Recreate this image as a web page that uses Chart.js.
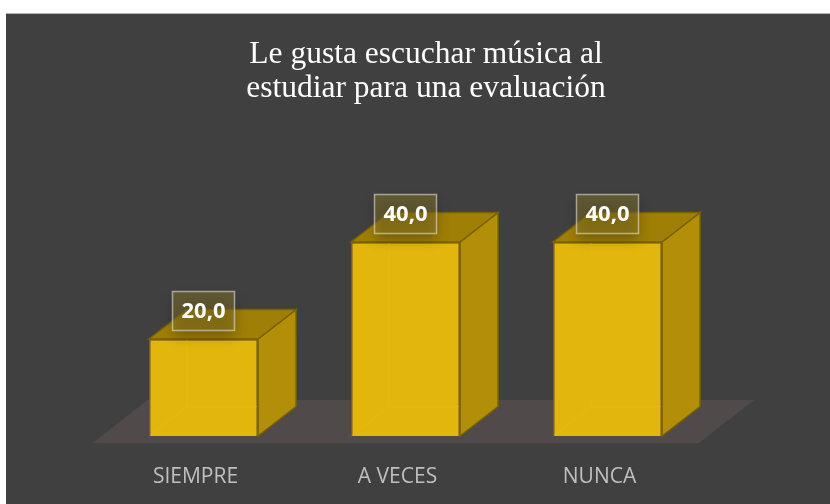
<!DOCTYPE html>
<html>
<head>
<meta charset="utf-8">
<script src="https://cdn.jsdelivr.net/npm/chart.js@4.4.1/dist/chart.umd.min.js"></script>
<style>
  html, body { margin: 0; padding: 0; background: #ffffff; }
  #frame {
    position: absolute; left: 6px; top: 13px; width: 824px; height: 491px;
    background: #404040; border-top: 1px solid #b4b4b4; box-sizing: border-box;
  }
  #chart { position: absolute; left: 0; top: 0; }
</style>
</head>
<body>
<div id="frame"><canvas id="chart" width="824" height="490"></canvas></div>
<script>
const titleLines = ["Le gusta escuchar música al", "estudiar para una evaluación"];
const categories = ["SIEMPRE", "A VECES", "NUNCA"];
const percentages = [20, 40, 40];

// colours of the box faces
const frontColor = "rgba(232, 186, 12, 0.97)";
const topColor = "#9f7f06";
const sideColor = "#b38e09";
const edgeColor = "#7a6200";
const depthX = 38;
const depthY = -29.5;

function formatValue(v) {
  return v.toFixed(1).replace(".", ",");
}

function poly(ctx, pts) {
  ctx.beginPath();
  ctx.moveTo(pts[0][0], pts[0][1]);
  for (let i = 1; i < pts.length; i++) ctx.lineTo(pts[i][0], pts[i][1]);
  ctx.closePath();
}

const bars3d = {
  id: "bars3d",
  beforeDatasetsDraw(chart) {
    const ctx = chart.ctx;
    const area = chart.chartArea;
    const base = chart.scales.y.getPixelForValue(0);

    // floor
    const fl = area.left - 10;
    const fr = area.right - 9.5;
    ctx.save();
    ctx.fillStyle = "#504b4a";
    poly(ctx, [[fl, base + 7], [fl + 55, base - 36], [fr + 55, base - 36], [fr, base + 7]]);
    ctx.fill();

    // side and top faces, hidden back edges
    chart.getDatasetMeta(0).data.forEach((bar) => {
      const { x, y, width } = bar.getProps(["x", "y", "width"], true);
      const l = x - width / 2;
      const r = x + width / 2;
      ctx.lineWidth = 1.5;
      ctx.strokeStyle = edgeColor;

      ctx.fillStyle = sideColor;
      poly(ctx, [[r, y], [r + depthX, y + depthY], [r + depthX, base + depthY], [r, base]]);
      ctx.fill();
      ctx.stroke();

      ctx.fillStyle = topColor;
      poly(ctx, [[l, y], [l + depthX, y + depthY], [r + depthX, y + depthY], [r, y]]);
      ctx.fill();
      ctx.stroke();

      ctx.strokeStyle = "rgba(255, 205, 30, 0.8)";
      ctx.lineWidth = 1;
      ctx.beginPath();
      ctx.moveTo(l, base);
      ctx.lineTo(l + depthX, base + depthY);
      ctx.lineTo(r, base + depthY);
      ctx.moveTo(l + depthX, base + depthY);
      ctx.lineTo(l + depthX, y);
      ctx.stroke();
    });
    ctx.restore();
  },
  afterDatasetsDraw(chart) {
    const ctx = chart.ctx;
    chart.getDatasetMeta(0).data.forEach((bar, i) => {
      const { x, y } = bar.getProps(["x", "y"], true);
      const w = 62, h = 39;
      const cy = y - 28;
      ctx.save();
      ctx.shadowColor = "rgba(0, 0, 0, 0.55)";
      ctx.shadowBlur = 12;
      ctx.shadowOffsetY = 6;
      ctx.fillStyle = "rgba(140, 120, 40, 0.45)";
      ctx.fillRect(x - w / 2, cy - h / 2, w, h);
      ctx.restore();

      ctx.save();
      ctx.strokeStyle = "rgba(225, 225, 215, 0.6)";
      ctx.lineWidth = 1.5;
      ctx.strokeRect(x - w / 2, cy - h / 2, w, h);
      ctx.fillStyle = "#ffffff";
      ctx.font = "bold 22px 'Open Sans'";
      ctx.textAlign = "center";
      ctx.textBaseline = "middle";
      ctx.fillText(formatValue(percentages[i]), x, cy + 1);
      ctx.restore();
    });
  },
};

new Chart(document.getElementById("chart").getContext("2d"), {
  type: "bar",
  data: {
    labels: categories,
    datasets: [
      {
        data: percentages,
        backgroundColor: frontColor,
        borderColor: edgeColor,
        borderWidth: 1.5,
        barPercentage: 0.54,
        categoryPercentage: 1,
      },
    ],
  },
  options: {
    responsive: false,
    animation: false,
    layout: {
      padding: { left: 16, right: 0, top: 0, bottom: 14 },
    },
    plugins: {
      legend: { display: false },
      tooltip: { enabled: false },
      title: {
        display: true,
        text: titleLines,
        color: "#ffffff",
        font: { family: "'Liberation Serif', 'Times New Roman', serif", size: 31.5, weight: "normal", lineHeight: 1.1 },
        padding: { top: 23, bottom: 87.2 },
      },
    },
    scales: {
      x: {
        grid: { display: false, drawTicks: false },
        border: { display: false },
        ticks: {
          color: "#bfbfbf",
          font: { family: "'Open Sans'", size: 21 },
          padding: 28,
          labelOffset: -8,
          maxRotation: 0,
        },
        afterFit: (scale) => { scale.height = 54; },
      },
      y: {
        min: 0,
        max: 50,
        grid: { display: false },
        border: { display: false },
        ticks: { display: false },
        afterFit: (scale) => { scale.width = 80.5; },
      },
      y2: {
        position: "right",
        grid: { display: false },
        border: { display: false },
        ticks: { display: false },
        afterFit: (scale) => { scale.width = 121.5; },
      },
    },
  },
  plugins: [bars3d],
});
</script>
</body>
</html>
